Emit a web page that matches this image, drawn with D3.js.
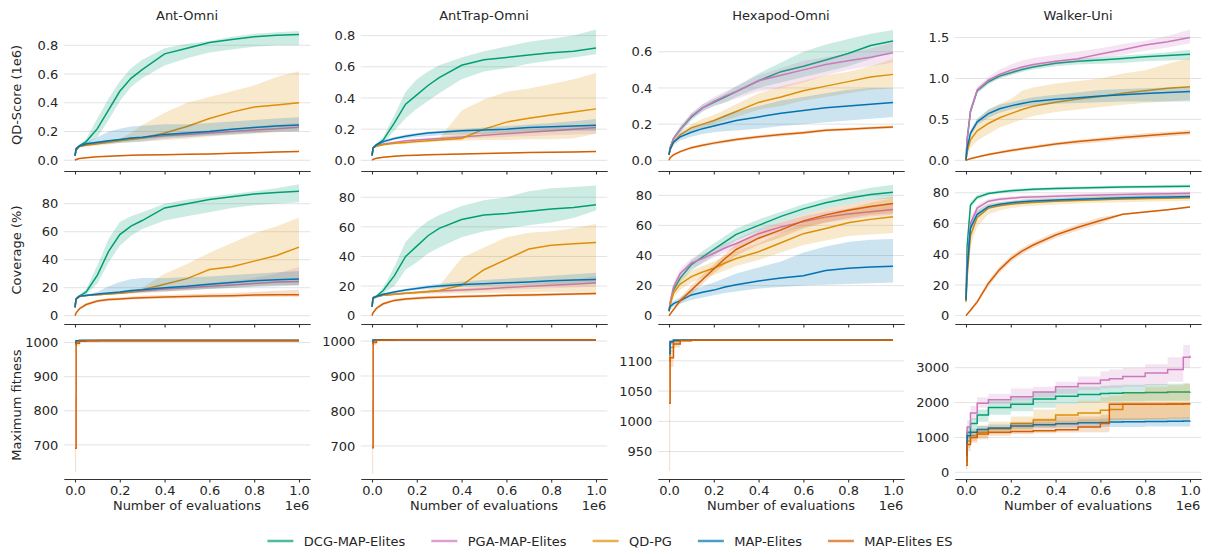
<!DOCTYPE html>
<html>
<head>
<meta charset="utf-8">
<script src="https://cdn.jsdelivr.net/npm/d3@7"></script>
<style>
  body { margin: 0; background: #fff; }
  text { font-family: "DejaVu Sans", sans-serif; fill: #262626; }
</style>
</head>
<body>
<svg id="chart" width="1210" height="554"></svg>
<script>
// methods in legend / drawing order
const methods = ["DCG-MAP-Elites", "PGA-MAP-Elites", "QD-PG", "MAP-Elites", "MAP-Elites ES"];
const colors = ["#029e73", "#cc78bc", "#de8f05", "#0173b2", "#d55e00"];
const envs = ["Ant-Omni", "AntTrap-Omni", "Hexapod-Omni", "Walker-Uni"];
const metrics = ["QD-Score (1e6)", "Coverage (%)", "Maximum fitness"];
const xTicks = [0, 0.2, 0.4, 0.6, 0.8, 1.0];

// number of evaluations (1e6)
const evals = [0, 0.005, 0.02, 0.05, 0.1, 0.15, 0.2, 0.25, 0.3, 0.4, 0.5, 0.6, 0.7, 0.8, 0.9, 1.0];
const fitEvals = [0, 0.005, 0.02, 0.05, 0.1, 0.2, 0.3, 0.4, 0.5, 0.6, 0.64, 0.7, 0.8, 0.9, 0.97, 1.0];

// each panel: one [mean, low, high] per method
const antQd = [
  [[0.03,0.07,0.10,0.13,0.22,0.35,0.48,0.57,0.63,0.74,0.78,0.82,0.84,0.86,0.87,0.875],
   [0.02,0.06,0.09,0.11,0.16,0.28,0.41,0.51,0.57,0.66,0.71,0.75,0.77,0.79,0.80,0.80],
   [0.05,0.08,0.11,0.15,0.29,0.43,0.55,0.64,0.70,0.78,0.81,0.83,0.86,0.88,0.89,0.90]],
  [[0.03,0.08,0.10,0.11,0.12,0.13,0.14,0.15,0.155,0.17,0.18,0.19,0.20,0.21,0.22,0.23],
   [0.025,0.075,0.095,0.10,0.11,0.12,0.13,0.14,0.145,0.16,0.165,0.175,0.185,0.19,0.20,0.205],
   [0.035,0.085,0.105,0.12,0.13,0.14,0.15,0.16,0.165,0.185,0.195,0.21,0.22,0.235,0.25,0.26]],
  [[0.03,0.08,0.095,0.105,0.115,0.125,0.135,0.145,0.155,0.19,0.235,0.29,0.335,0.37,0.385,0.40],
   [0.02,0.07,0.085,0.095,0.10,0.11,0.12,0.125,0.13,0.14,0.15,0.165,0.175,0.185,0.195,0.20],
   [0.04,0.09,0.105,0.115,0.13,0.14,0.15,0.19,0.245,0.33,0.40,0.44,0.48,0.52,0.58,0.62]],
  [[0.03,0.08,0.10,0.115,0.125,0.135,0.145,0.155,0.16,0.18,0.19,0.20,0.215,0.228,0.238,0.245],
   [0.02,0.07,0.09,0.10,0.11,0.115,0.12,0.125,0.13,0.15,0.16,0.17,0.18,0.19,0.20,0.20],
   [0.04,0.09,0.11,0.125,0.16,0.20,0.22,0.235,0.24,0.25,0.25,0.26,0.27,0.28,0.29,0.30]],
  [[0,0.005,0.012,0.018,0.025,0.028,0.031,0.034,0.036,0.039,0.041,0.043,0.048,0.053,0.057,0.06],
   [0,0.003,0.009,0.015,0.022,0.025,0.028,0.031,0.033,0.036,0.038,0.04,0.045,0.05,0.054,0.057],
   [0,0.007,0.015,0.021,0.028,0.031,0.034,0.037,0.039,0.042,0.044,0.046,0.051,0.056,0.06,0.063]]
];
const trapQd = [
  [[0.03,0.08,0.10,0.13,0.24,0.36,0.42,0.48,0.53,0.61,0.645,0.66,0.675,0.69,0.70,0.72],
   [0.02,0.07,0.09,0.11,0.19,0.27,0.33,0.38,0.43,0.52,0.57,0.59,0.62,0.64,0.66,0.68],
   [0.04,0.09,0.11,0.15,0.29,0.44,0.52,0.57,0.61,0.66,0.70,0.73,0.76,0.78,0.80,0.84]],
  [[0.03,0.08,0.095,0.105,0.115,0.125,0.13,0.135,0.14,0.15,0.16,0.17,0.18,0.19,0.20,0.21],
   [0.025,0.075,0.09,0.10,0.11,0.12,0.125,0.13,0.13,0.14,0.145,0.15,0.155,0.16,0.165,0.17],
   [0.035,0.085,0.10,0.11,0.12,0.13,0.14,0.145,0.15,0.165,0.18,0.19,0.20,0.21,0.22,0.23]],
  [[0.03,0.08,0.09,0.10,0.11,0.115,0.12,0.125,0.13,0.14,0.20,0.245,0.27,0.29,0.31,0.33],
   [0.025,0.075,0.085,0.095,0.10,0.105,0.11,0.115,0.12,0.125,0.13,0.13,0.135,0.135,0.14,0.17],
   [0.035,0.085,0.095,0.105,0.115,0.12,0.125,0.13,0.14,0.32,0.39,0.44,0.46,0.49,0.52,0.56]],
  [[0.03,0.08,0.10,0.12,0.14,0.155,0.165,0.175,0.18,0.19,0.195,0.20,0.21,0.215,0.22,0.225],
   [0.025,0.075,0.095,0.11,0.13,0.14,0.15,0.155,0.16,0.165,0.17,0.175,0.18,0.185,0.19,0.19],
   [0.035,0.085,0.105,0.13,0.15,0.165,0.175,0.185,0.19,0.20,0.21,0.22,0.23,0.24,0.25,0.265]],
  [[0,0.006,0.013,0.02,0.026,0.03,0.033,0.035,0.037,0.04,0.043,0.047,0.05,0.052,0.054,0.056],
   [0,0.004,0.01,0.017,0.023,0.027,0.03,0.032,0.034,0.037,0.04,0.044,0.047,0.049,0.051,0.053],
   [0,0.008,0.016,0.023,0.029,0.033,0.036,0.038,0.04,0.043,0.046,0.05,0.053,0.055,0.057,0.059]]
];
const hexQd = [
  [[0.03,0.07,0.12,0.17,0.24,0.29,0.32,0.35,0.38,0.44,0.49,0.52,0.555,0.59,0.635,0.66],
   [0.02,0.06,0.11,0.15,0.22,0.27,0.30,0.32,0.35,0.40,0.43,0.46,0.49,0.52,0.56,0.60],
   [0.04,0.08,0.13,0.19,0.26,0.31,0.34,0.37,0.41,0.48,0.54,0.60,0.64,0.67,0.70,0.72]],
  [[0.03,0.07,0.12,0.17,0.245,0.29,0.325,0.355,0.38,0.44,0.47,0.50,0.53,0.55,0.57,0.595],
   [0.02,0.06,0.11,0.16,0.23,0.27,0.30,0.32,0.34,0.38,0.40,0.43,0.47,0.50,0.52,0.54],
   [0.04,0.08,0.13,0.18,0.26,0.31,0.35,0.38,0.41,0.47,0.51,0.55,0.57,0.59,0.62,0.65]],
  [[0.03,0.06,0.10,0.14,0.18,0.20,0.22,0.245,0.27,0.32,0.35,0.385,0.41,0.435,0.46,0.475],
   [0.02,0.05,0.09,0.12,0.16,0.18,0.20,0.22,0.24,0.28,0.30,0.33,0.35,0.37,0.39,0.40],
   [0.04,0.07,0.11,0.16,0.20,0.23,0.25,0.28,0.31,0.37,0.41,0.44,0.47,0.49,0.52,0.56]],
  [[0.03,0.06,0.10,0.13,0.155,0.175,0.19,0.205,0.22,0.24,0.26,0.275,0.29,0.30,0.31,0.32],
   [0.02,0.05,0.085,0.11,0.13,0.145,0.155,0.16,0.165,0.175,0.19,0.20,0.21,0.22,0.23,0.24],
   [0.04,0.07,0.11,0.15,0.18,0.20,0.22,0.25,0.27,0.30,0.33,0.35,0.37,0.39,0.40,0.40]],
  [[0,0.015,0.03,0.048,0.07,0.083,0.095,0.105,0.115,0.13,0.142,0.153,0.166,0.172,0.178,0.184],
   [0,0.01,0.024,0.04,0.062,0.075,0.086,0.096,0.106,0.121,0.133,0.144,0.158,0.164,0.17,0.176],
   [0,0.02,0.036,0.056,0.078,0.091,0.104,0.114,0.124,0.139,0.151,0.162,0.174,0.18,0.186,0.192]]
];
const walkerQd = [
  [[0,0.25,0.6,0.85,0.96,1.03,1.07,1.11,1.14,1.185,1.21,1.225,1.245,1.265,1.28,1.295],
   [0,0.22,0.56,0.82,0.93,1.0,1.04,1.08,1.11,1.15,1.17,1.18,1.19,1.21,1.22,1.23],
   [0,0.28,0.64,0.88,0.99,1.06,1.10,1.14,1.17,1.21,1.24,1.26,1.28,1.30,1.32,1.35]],
  [[0,0.25,0.6,0.86,0.98,1.05,1.10,1.14,1.17,1.21,1.24,1.30,1.35,1.41,1.45,1.50],
   [0,0.22,0.56,0.82,0.94,1.01,1.05,1.09,1.13,1.17,1.20,1.25,1.29,1.34,1.38,1.43],
   [0,0.28,0.64,0.9,1.02,1.11,1.17,1.22,1.25,1.29,1.33,1.37,1.42,1.46,1.52,1.60]],
  [[0,0.1,0.25,0.36,0.45,0.52,0.57,0.62,0.66,0.71,0.75,0.78,0.82,0.85,0.88,0.90],
   [0,0.05,0.15,0.24,0.32,0.40,0.45,0.50,0.54,0.59,0.62,0.65,0.68,0.70,0.72,0.74],
   [0,0.16,0.36,0.50,0.62,0.69,0.75,0.85,0.89,0.94,0.97,1.0,1.06,1.10,1.18,1.25]],
  [[0,0.15,0.33,0.47,0.57,0.63,0.665,0.695,0.72,0.745,0.765,0.785,0.80,0.815,0.83,0.84],
   [0,0.12,0.29,0.43,0.52,0.58,0.62,0.65,0.67,0.69,0.70,0.71,0.72,0.72,0.72,0.72],
   [0,0.18,0.37,0.51,0.62,0.68,0.71,0.74,0.77,0.80,0.83,0.86,0.87,0.88,0.89,0.90]],
  [[0,0.005,0.02,0.04,0.07,0.095,0.12,0.14,0.16,0.2,0.23,0.255,0.28,0.30,0.32,0.34],
   [0,0,0.01,0.03,0.055,0.08,0.1,0.12,0.14,0.18,0.2,0.22,0.25,0.27,0.29,0.31],
   [0,0.01,0.03,0.05,0.085,0.11,0.14,0.16,0.18,0.22,0.25,0.28,0.31,0.33,0.35,0.37]]
];

const antCov = [
  [[6,12,14,17,29,46,58,64,68,77,80,83,85,87,88,89],
   [5,11,13,15,23,38,50,57,62,68,71,74,77,79,80,81],
   [7,13,15,19,36,55,67,71,74,80,83,85,87,89,91,94]],
  [[6,12,14,14.5,15,15.6,16.3,17,17.7,19,20,21,22,23,24,24.5],
   [5,11,13,14,14.5,15,15.5,16,16.5,17.5,18.5,19.5,20.5,21,22,22],
   [7,13,15,15,15.5,16.2,17,18,19,20.5,22,23.5,25,27,30,35]],
  [[6,12,14,14.5,15,15.5,16,17,18.5,22.5,26.5,33,35,39,43,49],
   [5,11,13,14,14.5,15,15.3,15.7,16,17,18,19,20,21,21.5,22],
   [7,13,15,15,15.5,16,16.5,17.5,20,30,37,45,52,59,64,70]],
  [[6,12,14,14.5,15.5,16.3,17,18,18.5,20,21,22.5,23.8,25,25.7,26.3],
   [5,11,13,14,14.8,15.3,15.8,16.3,16.8,17.5,18.2,19,19.8,20.5,21,21.5],
   [7,13,15,15,17,21,24,26,27,27,27.5,28,29,30,31,32]],
  [[0,2,5,8,10.5,11.5,12,12.5,12.8,13.3,13.7,14,14.3,14.8,15,15],
   [0,1.5,4,7,9.5,10.5,11,11.5,11.8,12.2,12.5,12.8,13,13.3,13.5,13.5],
   [0,2.5,6,9,11.5,12.5,13.2,13.8,14.2,14.8,15.3,15.8,16.3,17,17.8,18.5]]
];
const trapCov = [
  [[6,12,13,17,27,40,47,54,59,65,68,69,70.5,72,73,75],
   [5,11,12,15,20,31,36,42,46,53,57,59,61,63,66,71],
   [7,13,14,19,33,50,58,64,68,74,78,80,84,86,87,88]],
  [[6,12,13,13.8,14.5,15.2,15.7,16.2,16.7,17.3,18,19,19.8,20.5,21.2,22],
   [5,11,12,13.2,13.8,14.4,14.9,15.3,15.7,16.2,16.8,17.5,18,18.5,19,19.5],
   [7,13,14,14.4,15.2,16,16.5,17,17.7,18.5,19.5,20.5,21.5,22.5,24,27]],
  [[6,12,13,13.8,14.5,15.2,15.7,16.3,17,20.5,31,38,45,47.5,48.5,49.5],
   [5,11,12,13.2,13.8,14.2,14.5,14.8,15,15,15.3,15.5,15.7,16,16,16],
   [7,13,14,14.4,15.2,16,16.5,17.5,20,39,46,53,56,57,59,62]],
  [[6,12,13,14.5,16,17.3,18.3,19.3,20,21,21.5,22.2,22.8,23.5,24,24.5],
   [5,11,12,13.8,15.2,16.4,17.3,18,18.6,19.3,19.8,20.3,20.8,21.2,21.6,22],
   [7,13,14,15.2,16.8,18.2,19.3,20.5,21.5,23,24,25,26,27,28,29]],
  [[0,2,5,8,10.3,11.2,11.8,12.2,12.5,13,13.3,13.7,14,14.3,14.7,15],
   [0,1.5,4,7,9.3,10.2,10.8,11.2,11.5,12,12.3,12.7,13,13.3,13.7,14],
   [0,2.5,6,9,11.3,12.2,12.8,13.2,13.5,14,14.3,14.7,15,15.3,15.7,16]]
];
const hexCov = [
  [[3,8,17,25,34,39,44,49,54,60,66,71,75,78,80.5,82],
   [2,6,14,22,30,35,40,45,50,56,62,67,71,74,77,78],
   [4,10,20,28,37,43,48,53,58,64,69,74,78,82,85,87]],
  [[3,9,19,28,35,38,41.5,45,48,54.5,59,62.5,65.5,67.5,69,70.5],
   [2,7,16,25,31,35,38.5,42,45,51,55,59,62,64,66,67],
   [4,11,22,31,38,41,44.5,48,51,58,62,66,69,71,73,75]],
  [[3,7,15,21,26,29,31.5,35,38,42.5,48.5,54.5,58,61.8,64,65.8],
   [2,5,12,17,22,25,27,30,33,37,42,47,50,53,54,55],
   [4,9,18,25,30,33,36,40,43,48,55,62,67,71,75,78]],
  [[3,6,8,10,13.8,15.5,17,19,20.5,23,25,26.5,30,31.5,32.3,32.8],
   [2,4,6,8,10.5,12,13.5,15,16,18,19,20,20.5,21,21.5,22],
   [4,8,10,12,17,19.5,22,25,28,32,36,42,46,49,50.5,51]],
  [[0,1,4,10,17,24,31,38,44,51.5,57,63,67,70,72.5,74.5],
   [0,0,3,8,14,21,28,34,40,47,52,58,62,65,67,68],
   [0,2,5,12,20,27,34,41,48,56,62,67,71,74,77,79]]
];
const walkerCov = [
  [[10,45,72,77,79.5,80.5,81.3,81.8,82.2,82.7,83.1,83.4,83.7,83.9,84.1,84.3],
   [9,40,70,75.5,78.5,79.5,80.3,80.8,81.2,81.7,82.1,82.4,82.7,82.9,83.1,83.3],
   [11,50,74,78.5,80.5,81.5,82.3,82.8,83.2,83.7,84.1,84.4,84.7,84.9,85.1,85.3]],
  [[10,35,60,70,74.5,75.8,76.5,77,77.3,77.8,78.2,78.6,78.9,79.2,79.4,79.6],
   [9,30,56,68,73,74.5,75.3,75.8,76.1,76.6,77,77.4,77.7,78,78.2,78.4],
   [11,40,64,72,76,77.1,77.7,78.2,78.5,79,79.4,79.8,80.1,80.4,80.6,80.8]],
  [[9,25,52,64,70,71.5,72.5,73.2,73.7,74.4,75,75.5,75.9,76.2,76.5,76.8],
   [8,18,45,58,66,68.5,70,71,71.6,72.4,73,73.5,73.9,74.2,74.4,74.6],
   [10,32,59,68,73,74,75,75.6,76.1,76.8,77.4,77.9,78.3,78.6,78.8,79]],
  [[10,30,57,66,71,72.5,73.5,74.2,74.7,75.3,75.8,76.3,76.7,77,77.3,77.6],
   [9,26,53,63.5,69.5,71.2,72.3,73,73.5,74.1,74.6,75.1,75.5,75.8,76.1,76.4],
   [11,34,61,68.5,72.5,73.8,74.7,75.4,75.9,76.5,77,77.5,77.9,78.2,78.5,78.8]],
  [[0,1,3.5,9,21,30,37,42,46,52.5,57.5,62,66,67.5,69,70.8],
   [0,0.5,2.5,7.5,19,28,35,40,44,50.5,55.5,60,65.5,67,68.5,70.3],
   [0,1.5,4.5,10.5,23,32,39,44,48,54.5,59.5,64,66.5,68,69.5,71.3]]
];

const antFit = [
  [[997,1004,1006,1006,1006,1006,1006,1006,1006,1006,1006,1006,1006,1006,1006,1006],
   [993,1002,1005,1005,1005,1005,1005,1005,1005,1005,1005,1005,1005,1005,1005,1005],
   [1000,1005,1007,1007,1007,1007,1007,1007,1007,1007,1007,1007,1007,1007,1007,1007]],
  [[996,1004,1006,1006,1006,1006,1006,1006,1006,1006,1006,1006,1006,1006,1006,1006],
   [992,1002,1005,1005,1005,1005,1005,1005,1005,1005,1005,1005,1005,1005,1005,1005],
   [999,1005,1007,1007,1007,1007,1007,1007,1007,1007,1007,1007,1007,1007,1007,1007]],
  [[995,1003,1005,1006,1006,1006,1006,1006,1006,1006,1006,1006,1006,1006,1006,1006],
   [990,1001,1004,1005,1005,1005,1005,1005,1005,1005,1005,1005,1005,1005,1005,1005],
   [999,1005,1006,1007,1007,1007,1007,1007,1007,1007,1007,1007,1007,1007,1007,1007]],
  [[999,1005,1006,1006,1006,1006,1006,1006,1006,1006,1006,1006,1006,1006,1006,1006],
   [996,1003,1005,1005,1005,1005,1005,1005,1005,1005,1005,1005,1005,1005,1005,1005],
   [1002,1006,1007,1007,1007,1007,1007,1007,1007,1007,1007,1007,1007,1007,1007,1007]],
  [[690,998,1004,1005,1006,1006,1006,1006,1006,1006,1006,1006,1006,1006,1006,1006],
   [620,990,1002,1004,1005,1005,1005,1005,1005,1005,1005,1005,1005,1005,1005,1005],
   [840,1004,1006,1006,1007,1007,1007,1007,1007,1007,1007,1007,1007,1007,1007,1007]]
];
const trapFit = [
  [[996,1002,1004,1004,1004,1004,1004,1004,1004,1004,1004,1004,1004,1004,1004,1004],
   [992,1000,1003,1003,1003,1003,1003,1003,1003,1003,1003,1003,1003,1003,1003,1003],
   [999,1003,1005,1005,1005,1005,1005,1005,1005,1005,1005,1005,1005,1005,1005,1005]],
  [[995,1002,1004,1004,1004,1004,1004,1004,1004,1004,1004,1004,1004,1004,1004,1004],
   [991,1000,1003,1003,1003,1003,1003,1003,1003,1003,1003,1003,1003,1003,1003,1003],
   [998,1003,1005,1005,1005,1005,1005,1005,1005,1005,1005,1005,1005,1005,1005,1005]],
  [[994,1001,1003,1004,1004,1004,1004,1004,1004,1004,1004,1004,1004,1004,1004,1004],
   [989,999,1002,1003,1003,1003,1003,1003,1003,1003,1003,1003,1003,1003,1003,1003],
   [998,1003,1004,1005,1005,1005,1005,1005,1005,1005,1005,1005,1005,1005,1005,1005]],
  [[998,1003,1004,1004,1004,1004,1004,1004,1004,1004,1004,1004,1004,1004,1004,1004],
   [995,1001,1003,1003,1003,1003,1003,1003,1003,1003,1003,1003,1003,1003,1003,1003],
   [1001,1004,1005,1005,1005,1005,1005,1005,1005,1005,1005,1005,1005,1005,1005,1005]],
  [[695,996,1002,1003,1004,1004,1004,1004,1004,1004,1004,1004,1004,1004,1004,1004],
   [620,988,1000,1002,1003,1003,1003,1003,1003,1003,1003,1003,1003,1003,1003,1003],
   [830,1002,1004,1004,1005,1005,1005,1005,1005,1005,1005,1005,1005,1005,1005,1005]]
];
const hexFit = [
  [[1118,1131,1134,1134,1134,1134,1134,1134,1134,1134,1134,1134,1134,1134,1134,1134],
   [1108,1128,1133,1133,1133,1133,1133,1133,1133,1133,1133,1133,1133,1133,1133,1133],
   [1125,1133,1135,1135,1135,1135,1135,1135,1135,1135,1135,1135,1135,1135,1135,1135]],
  [[1115,1130,1134,1134,1134,1134,1134,1134,1134,1134,1134,1134,1134,1134,1134,1134],
   [1105,1126,1133,1133,1133,1133,1133,1133,1133,1133,1133,1133,1133,1133,1133,1133],
   [1123,1133,1135,1135,1135,1135,1135,1135,1135,1135,1135,1135,1135,1135,1135,1135]],
  [[1100,1122,1132,1134,1134,1134,1134,1134,1134,1134,1134,1134,1134,1134,1134,1134],
   [1085,1115,1130,1133,1133,1133,1133,1133,1133,1133,1133,1133,1133,1133,1133,1133],
   [1112,1128,1134,1135,1135,1135,1135,1135,1135,1135,1135,1135,1135,1135,1135,1135]],
  [[1112,1132,1134,1134,1134,1134,1134,1134,1134,1134,1134,1134,1134,1134,1134,1134],
   [1104,1129,1133,1133,1133,1133,1133,1133,1133,1133,1133,1133,1133,1133,1133,1133],
   [1120,1134,1135,1135,1135,1135,1135,1135,1135,1135,1135,1135,1135,1135,1135,1135]],
  [[1030,1105,1128,1133,1134,1134,1134,1134,1134,1134,1134,1134,1134,1134,1134,1134],
   [918,1090,1122,1131,1133,1133,1133,1133,1133,1133,1133,1133,1133,1133,1133,1133],
   [1100,1118,1132,1134,1135,1135,1135,1135,1135,1135,1135,1135,1135,1135,1135,1135]]
];
const walkerFit = [
  [[500,1150,1400,1640,1860,1950,2100,2180,2230,2260,2270,2280,2290,2300,2300,2310],
   [400,1000,1250,1450,1650,1750,1850,1950,2000,2020,2030,2040,2050,2050,2050,2050],
   [600,1300,1550,1800,2050,2150,2300,2400,2450,2480,2500,2510,2530,2540,2550,2550]],
  [[500,1300,1700,1980,2080,2170,2300,2450,2550,2650,2680,2750,2850,2950,3300,3340],
   [400,1100,1500,1850,1950,2050,2150,2250,2350,2400,2420,2450,2500,2600,3000,3050],
   [600,1500,1900,2150,2250,2400,2450,2600,2750,2900,2950,3000,3100,3300,3650,3800]],
  [[300,900,1050,1150,1250,1400,1500,1640,1700,1780,1800,1950,1950,1955,1960,1960],
   [150,700,900,1000,1100,1200,1300,1400,1450,1480,1480,1500,1500,1510,1510,1510],
   [500,1100,1250,1350,1450,1600,1800,1950,2050,2150,2200,2300,2450,2500,2550,2550]],
  [[500,1050,1150,1230,1270,1330,1360,1390,1420,1430,1440,1450,1455,1465,1470,1475],
   [400,950,1050,1150,1200,1250,1270,1280,1290,1300,1300,1300,1310,1310,1310,1310],
   [600,1150,1250,1330,1370,1420,1450,1480,1520,1540,1550,1550,1560,1570,1580,1580]],
  [[200,800,1000,1100,1150,1170,1190,1220,1300,1400,1950,1950,1955,1960,1965,1970],
   [80,600,850,950,1050,1100,1120,1140,1150,1150,1500,1500,1520,1540,1550,1550],
   [400,1000,1150,1250,1300,1450,1550,1600,1600,1650,2000,2000,2000,2000,2000,2000]]
];

// y ranges and ticks per panel (rows: QD-score, coverage, max fitness)
const yDomains = [
  [[-0.047, 0.955], [-0.043, 0.881], [-0.037, 0.759], [-0.082, 1.678]],
  [[-4.5, 98.4], [-4.3, 93.0], [-4.2, 91.5], [-4.1, 89.6]],
  [[606, 1028], [611, 1023], [908, 1146], [-135, 3995]]
];
const yTicks = [
  [[0, 0.2, 0.4, 0.6, 0.8], [0, 0.2, 0.4, 0.6, 0.8], [0, 0.2, 0.4, 0.6], [0, 0.5, 1.0, 1.5]],
  [[0, 20, 40, 60, 80], [0, 20, 40, 60, 80], [0, 20, 40, 60, 80], [0, 20, 40, 60, 80]],
  [[700, 800, 900, 1000], [700, 800, 900, 1000], [950, 1000, 1050, 1100], [0, 1000, 2000, 3000]]
];

const panels = [
  [antQd, trapQd, hexQd, walkerQd],
  [antCov, trapCov, hexCov, walkerCov],
  [antFit, trapFit, hexFit, walkerFit]
];
const rowX = [evals, evals, fitEvals];

// layout
const svg = d3.select("#chart");
const colX0 = 63.8, colStep = 297, axW = 246.4;
const rowTop = [23, 178, 333], axH = 144;
const spineY = [171, 324, 479];
const fontSize = 13;

panels.forEach((row, r) => {
  row.forEach((series, c) => {
    const left = colX0 + c * colStep;
    const x = d3.scaleLinear().domain([-0.05, 1.05]).range([left, left + axW]);
    const y = d3.scaleLinear().domain(yDomains[r][c]).range([rowTop[r] + axH, rowTop[r]]);
    const g = svg.append("g");
    const xs = rowX[r];
    const curve = r === 2 ? d3.curveStepAfter : d3.curveLinear;

    // horizontal grid
    g.selectAll(".grid").data(yTicks[r][c]).join("line")
      .attr("x1", left).attr("x2", left + axW)
      .attr("y1", d => y(d)).attr("y2", d => y(d))
      .attr("stroke", "#e3e3e3").attr("stroke-width", 1);

    // y tick labels
    const fmt = r === 0 ? d3.format(".1f") : d3.format("d");
    const yAxis = d3.axisLeft(y).tickValues(yTicks[r][c]).tickSize(0).tickPadding(5.5).tickFormat(fmt);
    const ya = g.append("g").attr("transform", `translate(${left},0)`).call(yAxis);
    ya.select(".domain").remove();
    ya.selectAll("text").attr("font-size", fontSize).attr("font-family", "DejaVu Sans").attr("fill", "#262626");

    // bands then lines, per method
    series.forEach((s, k) => {
      const pts = xs.map((xv, i) => ({x: xv, m: s[0][i], lo: s[1][i], hi: s[2][i]}));
      g.append("path").datum(pts)
        .attr("d", d3.area().curve(curve).x(d => x(d.x)).y0(d => y(d.lo)).y1(d => y(d.hi)))
        .attr("fill", colors[k]).attr("fill-opacity", 0.2).attr("stroke", "none");
      g.append("path").datum(pts)
        .attr("d", d3.line().curve(curve).x(d => x(d.x)).y(d => y(d.m)))
        .attr("fill", "none").attr("stroke", colors[k]).attr("stroke-width", 1.5);
    });

    // bottom spine with ticks
    const xAxis = d3.axisBottom(x).tickValues(xTicks).tickSize(3.5).tickSizeOuter(0).tickPadding(3.5)
      .tickFormat(r === 2 ? d3.format(".1f") : "");
    const xa = g.append("g").attr("transform", `translate(0,${spineY[r]})`).call(xAxis);
    xa.select(".domain").attr("stroke", "#333").attr("stroke-width", 1.2);
    xa.selectAll(".tick line").attr("stroke", "#333").attr("stroke-width", 1.1);
    xa.selectAll("text").attr("font-size", fontSize).attr("font-family", "DejaVu Sans").attr("fill", "#262626");

    if (r === 0) {
      g.append("text").attr("x", x(0.5)).attr("y", 15)
        .attr("text-anchor", "middle").attr("dominant-baseline", "central")
        .attr("font-size", fontSize).text(envs[c]);
    }
    if (r === 2) {
      g.append("text").attr("x", x(0.5)).attr("y", 505)
        .attr("text-anchor", "middle").attr("dominant-baseline", "central")
        .attr("font-size", fontSize).text("Number of evaluations");
      g.append("text").attr("x", left + axW - 1).attr("y", 505)
        .attr("text-anchor", "end").attr("dominant-baseline", "central")
        .attr("font-size", fontSize).text("1e6");
    }
    if (c === 0) {
      const cy = rowTop[r] + axH / 2;
      g.append("text").attr("transform", `translate(16,${cy}) rotate(-90)`)
        .attr("text-anchor", "middle").attr("dominant-baseline", "central")
        .attr("font-size", fontSize).text(metrics[r]);
    }
  });
});

// legend, one row centred under the grid
const legend = svg.append("g");
const handleLen = 26, handlePad = 10.4, colGap = 26, legendY = 541;
const items = legend.selectAll("g").data(methods).join("g");
items.append("line").attr("x1", 0).attr("x2", handleLen).attr("y1", 0).attr("y2", 0)
  .attr("stroke", (d, i) => colors[i]).attr("stroke-width", 2.5).attr("stroke-opacity", 0.7);
items.append("text").attr("x", handleLen + handlePad).attr("y", 0)
  .attr("dominant-baseline", "central").attr("font-size", fontSize).text(d => d);
let widths = [];
items.each(function () { widths.push(handleLen + handlePad + d3.select(this).select("text").node().getComputedTextLength()); });
const total = d3.sum(widths) + colGap * (widths.length - 1);
let cursor = 610 - total / 2;
items.attr("transform", (d, i) => {
  const t = `translate(${cursor},${legendY})`;
  cursor += widths[i] + colGap;
  return t;
});
</script>
</body>
</html>
